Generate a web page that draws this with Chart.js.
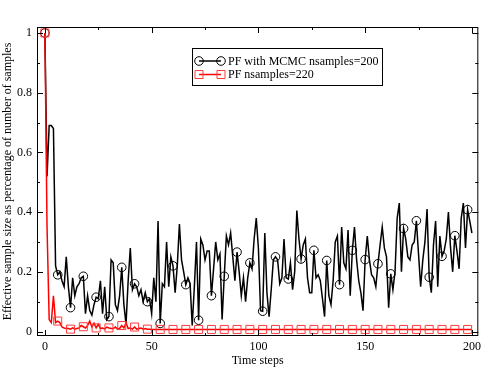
<!DOCTYPE html>
<html><head><meta charset="utf-8">
<script src="https://cdn.jsdelivr.net/npm/chart.js@4"></script>
<style>html,body{margin:0;padding:0;background:#fff}canvas{display:block}</style>
</head><body>
<canvas id="c" width="485" height="368"></canvas>
<script>
const steps = Array.from({length: 201}, (_, i) => i);
const seriesNames = ['PF with MCMC nsamples=200', 'PF nsamples=220'];
const mcmc = [
1.0,0.52,0.69,0.69,0.68,0.22,0.19,0.20,0.17,0.15,
0.25,0.15,0.08,0.18,0.12,0.15,0.16,0.18,0.185,0.06,
0.12,0.07,0.055,0.09,0.115,0.11,0.17,0.06,0.15,0.04,
0.05,0.24,0.23,0.09,0.07,0.12,0.215,0.09,0.025,0.17,
0.28,0.14,0.16,0.15,0.12,0.14,0.10,0.13,0.10,0.11,
0.06,0.18,0.10,0.37,0.027,0.16,0.15,0.30,0.15,0.25,
0.22,0.13,0.22,0.36,0.24,0.20,0.157,0.18,0.16,0.02,
0.15,0.30,0.038,0.31,0.29,0.24,0.27,0.27,0.12,0.21,
0.30,0.24,0.26,0.04,0.185,0.32,0.29,0.33,0.25,0.17,
0.266,0.20,0.12,0.18,0.10,0.18,0.23,0.21,0.31,0.38,
0.28,0.07,0.068,0.33,0.13,0.05,0.14,0.24,0.25,0.24,
0.16,0.18,0.31,0.18,0.176,0.23,0.14,0.20,0.405,0.31,
0.243,0.29,0.31,0.18,0.13,0.13,0.272,0.18,0.19,0.17,
0.11,0.05,0.238,0.12,0.09,0.17,0.30,0.32,0.157,0.35,
0.23,0.21,0.34,0.12,0.272,0.35,0.24,0.17,0.13,0.07,
0.241,0.32,0.24,0.19,0.18,0.15,0.227,0.29,0.35,0.28,
0.25,0.08,0.193,0.14,0.20,0.38,0.43,0.20,0.345,0.31,
0.25,0.24,0.29,0.30,0.371,0.26,0.15,0.24,0.30,0.41,
0.182,0.13,0.29,0.37,0.15,0.32,0.252,0.27,0.31,0.40,
0.28,0.20,0.321,0.27,0.21,0.38,0.43,0.28,0.408,0.37,
0.33];
const pf = [
1.0,0.35,0.04,0.03,0.12,0.03,0.035,0.03,0.015,0.012,
0.01,0.01,0.008,0.012,0.008,0.01,0.012,0.02,0.016,0.012,
0.02,0.035,0.015,0.028,0.012,0.025,0.01,0.012,0.008,0.015,
0.012,0.01,0.01,0.015,0.008,0.01,0.02,0.012,0.03,0.01,
0.012,0.008,0.015,0.008,0.01,0.012,0.008,0.01,0.008,0.008,
0.007,0.007,0.007,0.007,0.007,0.007,0.007,0.007,0.007,0.007,
0.007,0.007,0.007,0.007,0.007,0.007,0.007,0.007,0.007,0.007,
0.007,0.007,0.007,0.007,0.007,0.007,0.007,0.007,0.007,0.007,
0.007,0.007,0.007,0.007,0.007,0.007,0.007,0.007,0.007,0.007,
0.007,0.007,0.007,0.007,0.007,0.007,0.007,0.007,0.007,0.007,
0.007,0.007,0.007,0.007,0.007,0.007,0.007,0.007,0.007,0.007,
0.007,0.007,0.007,0.007,0.007,0.007,0.007,0.007,0.007,0.007,
0.007,0.007,0.007,0.007,0.007,0.007,0.007,0.007,0.007,0.007,
0.007,0.007,0.007,0.007,0.007,0.007,0.007,0.007,0.007,0.007,
0.007,0.007,0.007,0.007,0.007,0.007,0.007,0.007,0.007,0.007,
0.007,0.007,0.007,0.007,0.007,0.007,0.007,0.007,0.007,0.007,
0.007,0.007,0.007,0.007,0.007,0.007,0.007,0.007,0.007,0.007,
0.007,0.007,0.007,0.007,0.007,0.007,0.007,0.007,0.007,0.007,
0.007,0.007,0.007,0.007,0.007,0.007,0.007,0.007,0.007,0.007,
0.007,0.007,0.007,0.007,0.007,0.007,0.007,0.007,0.007,0.007,
0.007];
const xMajorTicks = [0, 50, 100, 150, 200];
const xMinorTicks = [25, 75, 125, 175];
const yMajorTicks = [0, 0.2, 0.4, 0.6, 0.8, 1];
const yTickLabels = ['0', '0.2', '0.4', '0.6', '0.8', '1'];
const yMinorTicks = [0.1, 0.3, 0.5, 0.7, 0.9];
const xTitle = 'Time steps';
const yTitle = 'Effective sample size as percentage of number of samples';

const FONT = 'Liberation Serif';
const markerEvery = 6;

const framePlugin = {
  id: 'frameTicks',
  afterDatasetsDraw(chart) {
    const {ctx, chartArea: a, scales: {x, y}} = chart;
    ctx.save();
    ctx.strokeStyle = '#000';
    ctx.lineWidth = 1;
    ctx.strokeRect(a.left + 0.5, a.top + 0.5, a.right - a.left - 1, a.bottom - a.top - 1);
    ctx.beginPath();
    const xt = (v, len) => {
      const px = Math.round(x.getPixelForValue(v)) + 0.5;
      ctx.moveTo(px, a.bottom); ctx.lineTo(px, a.bottom - len);
      ctx.moveTo(px, a.top); ctx.lineTo(px, a.top + len);
    };
    const yt = (v, len) => {
      const py = Math.round(y.getPixelForValue(v)) + 0.5;
      ctx.moveTo(a.left, py); ctx.lineTo(a.left + len, py);
      ctx.moveTo(a.right, py); ctx.lineTo(a.right - len, py);
    };
    xMajorTicks.forEach(v => xt(v, 6));
    xMinorTicks.forEach(v => xt(v, 3));
    yMajorTicks.forEach(v => yt(v, 6));
    yMinorTicks.forEach(v => yt(v, 3));
    ctx.stroke();
    ctx.restore();
  }
};

const legendPlugin = {
  id: 'boxLegend',
  afterDraw(chart) {
    const {ctx} = chart;
    const bx = 192, by = 48, bw = 190, bh = 37;
    ctx.save();
    ctx.fillStyle = '#fff';
    ctx.fillRect(bx, by, bw, bh);
    ctx.strokeStyle = '#000';
    ctx.lineWidth = 1;
    ctx.strokeRect(bx + 0.5, by + 0.5, bw, bh);
    const rows = [61, 74.5];
    chart.data.datasets.forEach((ds, i) => {
      const yy = rows[i];
      const x1 = 199, x2 = 221;
      ctx.strokeStyle = ds.borderColor;
      ctx.lineWidth = ds.borderWidth;
      ctx.beginPath(); ctx.moveTo(x1, yy); ctx.lineTo(x2, yy); ctx.stroke();
      ctx.lineWidth = 1;
      ctx.strokeStyle = ds.pointBorderColor;
      [x1, x2].forEach(px => {
        ctx.beginPath();
        if (ds.pointStyle === 'rect') {
          ctx.rect(px - 4, yy - 4, 8, 8);
        } else {
          ctx.arc(px, yy, 4.3, 0, Math.PI * 2);
        }
        ctx.stroke();
      });
      ctx.fillStyle = '#000';
      ctx.font = '12px "' + FONT + '"';
      ctx.textBaseline = 'middle';
      ctx.textAlign = 'left';
      ctx.fillText(ds.label, 228, yy + 0.5);
    });
    ctx.restore();
  }
};

new Chart(document.getElementById('c'), {
  type: 'line',
  data: {
    labels: steps,
    datasets: [
      {
        label: seriesNames[0], data: mcmc, order: 1,
        borderColor: '#000', borderWidth: 1.5, tension: 0,
        pointStyle: 'circle',
        pointRadius: c => (c.dataIndex % markerEvery === 0 ? 4.3 : 0),
        pointBorderColor: '#000', pointBorderWidth: 1,
        pointBackgroundColor: 'rgba(0,0,0,0)'
      },
      {
        label: seriesNames[1], data: pf, order: 0,
        borderColor: '#ff0000', borderWidth: 1.5, tension: 0,
        pointStyle: 'rect',
        pointRadius: c => (c.dataIndex % markerEvery === 0 ? 5.66 : 0),
        pointBorderColor: '#ff3b3b', pointBorderWidth: 1,
        pointBackgroundColor: 'rgba(0,0,0,0)'
      }
    ]
  },
  options: {
    responsive: false,
    animation: false,
    devicePixelRatio: 1,
    layout: {padding: {top: 27, right: 5, left: 0, bottom: 0}},
    plugins: {legend: {display: false}, tooltip: {enabled: false}},
    scales: {
      x: {
        type: 'linear', min: -3.7, max: 203,
        grid: {display: false, drawTicks: false},
        border: {display: false},
        afterBuildTicks: s => { s.ticks = xMajorTicks.map(v => ({value: v})); },
        afterFit: s => { s.height = 32; },
        ticks: {
          padding: 4, maxRotation: 0, autoSkip: false,
          color: '#000', font: {family: FONT, size: 12},
          callback: v => String(v)
        },
        title: {display: true, text: xTitle, color: '#000',
          font: {family: FONT, size: 12}, padding: {top: 0, bottom: 0}}
      },
      y: {
        type: 'linear', min: -0.015, max: 1.02,
        grid: {display: false, drawTicks: false},
        border: {display: false},
        afterBuildTicks: s => { s.ticks = yMajorTicks.map(v => ({value: v})); },
        afterFit: s => { s.width = 37; },
        ticks: {
          padding: 5, autoSkip: false,
          color: '#000', font: {family: FONT, size: 12},
          callback: (v, i) => yTickLabels[i]
        },
        title: {display: true, text: yTitle, color: '#000',
          font: {family: FONT, size: 12}, padding: {top: 1, bottom: 0}}
      }
    }
  },
  plugins: [framePlugin, legendPlugin]
});
</script>
</body></html>
